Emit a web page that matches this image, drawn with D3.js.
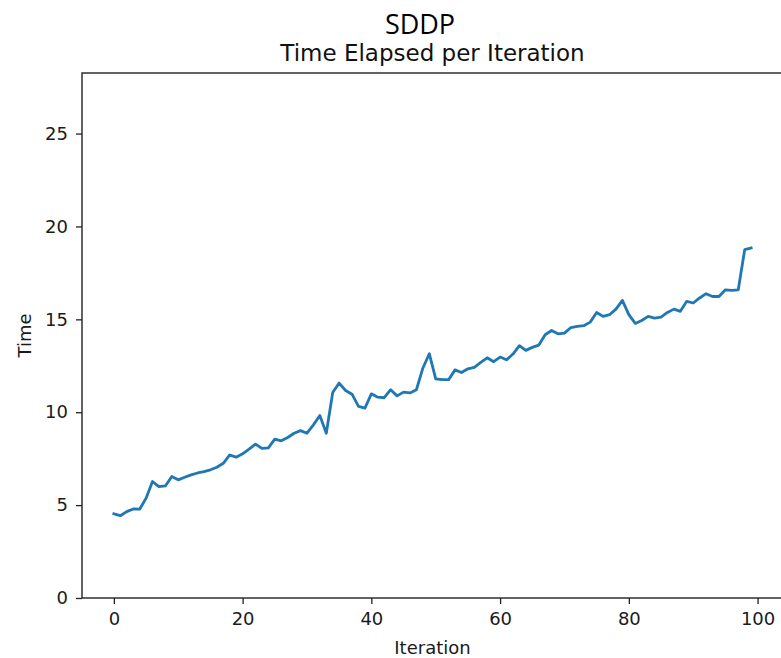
<!DOCTYPE html>
<html>
<head>
<meta charset="utf-8">
<script src="https://cdn.jsdelivr.net/npm/d3@7"></script>
<style>
  html, body { margin: 0; padding: 0; background: #fff; overflow: hidden; }
  svg { display: block; }
</style>
</head>
<body>
<svg id="chart" width="781" height="658"></svg>
<script>
// Seconds spent on each SDDP iteration
const iterations = d3.range(0, 100);
const timeElapsed = [
  4.53, 4.43, 4.65, 4.79, 4.78, 5.37, 6.27, 6.00, 6.03, 6.54,
  6.36, 6.50, 6.63, 6.73, 6.80, 6.90, 7.04, 7.25, 7.70, 7.58,
  7.76, 8.01, 8.28, 8.05, 8.08, 8.55, 8.46, 8.64, 8.87, 9.01,
  8.87, 9.32, 9.82, 8.87, 11.06, 11.57, 11.17, 10.97, 10.31, 10.22,
  10.99, 10.81, 10.78, 11.21, 10.88, 11.08, 11.04, 11.21, 12.37, 13.15,
  11.80, 11.75, 11.75, 12.28, 12.14, 12.34, 12.41, 12.68, 12.93, 12.72,
  12.97, 12.82, 13.13, 13.58, 13.33, 13.49, 13.61, 14.17, 14.40, 14.22,
  14.26, 14.56, 14.62, 14.66, 14.85, 15.37, 15.16, 15.25, 15.55, 16.02,
  15.25, 14.78, 14.94, 15.16, 15.07, 15.12, 15.37, 15.55, 15.43, 15.97,
  15.88, 16.15, 16.38, 16.23, 16.23, 16.59, 16.56, 16.59, 18.75, 18.84
];
const xTicks = [0, 20, 40, 60, 80, 100];
const yTicks = [0, 5, 10, 15, 20, 25];

const svg = d3.select("#chart");
const plotLeft = 82, plotRight = 783, plotTop = 73, plotBottom = 598;

const xPad = 0.05 * (d3.max(iterations) - d3.min(iterations));
const x = d3.scaleLinear()
  .domain([d3.min(iterations) - xPad, d3.max(iterations) + xPad])
  .range([plotLeft, plotRight]);
const y = d3.scaleLinear()
  .domain([0, 1.5 * d3.max(timeElapsed)])
  .range([plotBottom, plotTop]);

const tickFont = "DejaVu Sans, sans-serif";

// Data line
svg.append("path")
  .datum(iterations.map((d, i) => [d, timeElapsed[i]]))
  .attr("fill", "none")
  .attr("stroke", "#1f77b4")
  .attr("stroke-width", 2.8)
  .attr("stroke-linejoin", "round")
  .attr("stroke-linecap", "square")
  .attr("d", d3.line().x(d => x(d[0])).y(d => y(d[1])));

// Axes
const xAxis = svg.append("g")
  .attr("transform", `translate(0,${plotBottom})`)
  .call(d3.axisBottom(x).tickValues(xTicks).tickSize(6).tickPadding(8).tickSizeOuter(0));
const yAxis = svg.append("g")
  .attr("transform", `translate(${plotLeft},0)`)
  .call(d3.axisLeft(y).tickValues(yTicks).tickSize(6).tickPadding(8).tickSizeOuter(0));

[xAxis, yAxis].forEach(g => {
  g.select(".domain").remove();
  g.selectAll(".tick line").attr("stroke", "#222").attr("stroke-width", 1.3);
  g.selectAll(".tick text")
    .attr("fill", "#1a1a1a")
    .style("font-family", tickFont)
    .style("font-size", "18px");
});

// Frame around the plotting area
svg.append("rect")
  .attr("x", plotLeft).attr("y", plotTop)
  .attr("width", plotRight - plotLeft).attr("height", plotBottom - plotTop)
  .attr("fill", "none")
  .attr("stroke", "#222")
  .attr("stroke-width", 1.4);

// Axis labels
svg.append("text")
  .attr("x", (plotLeft + plotRight) / 2).attr("y", 654)
  .attr("text-anchor", "middle")
  .style("font-family", tickFont).style("font-size", "18px")
  .attr("fill", "#1a1a1a")
  .text("Iteration");
svg.append("text")
  .attr("transform", `translate(31,${(plotTop + plotBottom) / 2}) rotate(-90)`)
  .attr("text-anchor", "middle")
  .style("font-family", tickFont).style("font-size", "18px")
  .attr("fill", "#1a1a1a")
  .text("Time");

// Titles
svg.append("text")
  .attr("x", (plotLeft + plotRight) / 2).attr("y", 61)
  .attr("text-anchor", "middle")
  .style("font-family", tickFont).style("font-size", "23px")
  .attr("fill", "#111")
  .text("Time Elapsed per Iteration");
svg.append("text")
  .attr("x", 420).attr("y", 34)
  .attr("text-anchor", "middle")
  .style("font-family", "'Open Sans', 'Noto Sans', sans-serif").style("font-size", "27px")
  .attr("fill", "#000")
  .text("SDDP");
</script>
</body>
</html>
